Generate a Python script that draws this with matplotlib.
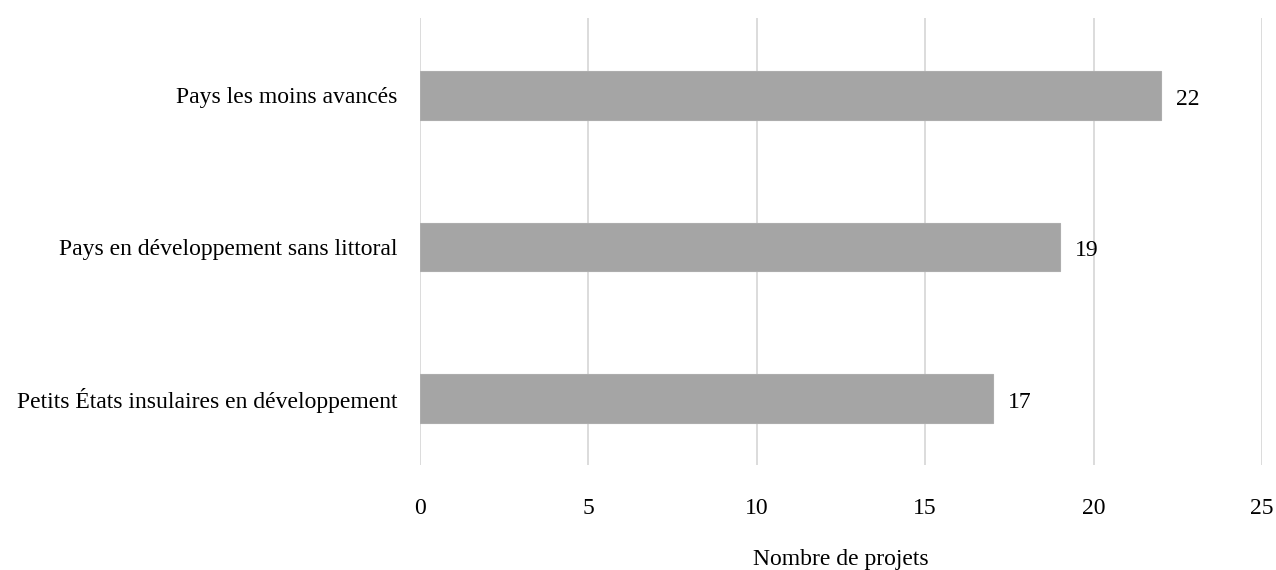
import matplotlib.pyplot as plt

# Data
categories = ['Petits États insulaires en développement',
              'Pays en développement sans littoral',
              'Pays les moins avancés']
values = [17, 19, 22]
x_ticks = [0, 5, 10, 15, 20, 25]

plt.rcParams['font.family'] = ['Liberation Serif', 'DejaVu Serif']

fig = plt.figure(figsize=(12.76, 5.70), dpi=100)
ax = fig.add_axes([420 / 1276, 105 / 570, 842 / 1276, 447 / 570])

ax.barh(range(len(categories)), values, height=0.32, color='#A5A5A5',
        edgecolor='#ADADAD', linewidth=0.8, zorder=3)

# value labels, nudged a little below the bar centre like the original
for i, v in enumerate(values):
    ax.text(v + 0.45, i - 0.025, str(v), va='center', ha='left', fontsize=17, color='#000000')

ax.set_xlim(0, 25)
ax.set_ylim(-0.44, 2.51)
ax.set_xticks(x_ticks)
ax.set_yticks(range(len(categories)))
ax.set_yticklabels(categories)
ax.tick_params(axis='both', length=0, labelsize=17, colors='#000000')
ax.tick_params(axis='x', pad=24)
ax.tick_params(axis='y', pad=16)
ax.grid(axis='x', color='#D9D9D9', linewidth=1.3, zorder=0)
for s in ax.spines.values():
    s.set_visible(False)

ax.set_xlabel('Nombre de projets', fontsize=17, labelpad=21)

fig.savefig('out.png', dpi=100)
